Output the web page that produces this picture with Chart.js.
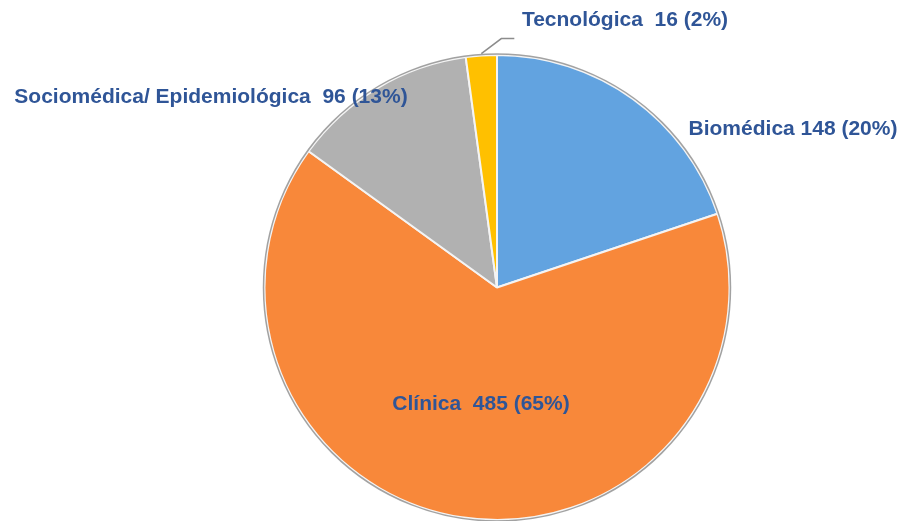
<!DOCTYPE html>
<html>
<head>
<meta charset="utf-8">
<script src="https://cdn.jsdelivr.net/npm/chart.js@4"></script>
<style>
  html, body { margin: 0; padding: 0; background: #fff; }
  #wrap { width: 901px; height: 521px; }
</style>
</head>
<body>
<div id="wrap"><canvas id="pie"></canvas></div>
<script>
// データ
const categories = ['Biomédica', 'Clínica', 'Sociomédica/ Epidemiológica', 'Tecnológica'];
const counts = [148, 485, 96, 16];
const sliceColors = ['#62A3E0', '#F8883A', '#B1B1B1', '#FFC000'];

// ラベル配置 (中心からのずれ)
const labelSep = [' ', '  ', '  ', '  '];
const labelOffsets = [[296, -158], [-16, 117], [-286, -190], [128, -267]];

const total = counts.reduce((a, b) => a + b, 0);

// ラベル描画プラグイン
const labelPlugin = {
    id: 'sliceLabels',
    afterDatasetsDraw(chart) {
        const ctx = chart.ctx;
        const arcs = chart.getDatasetMeta(0).data;
        ctx.save();

        // 外周の縁取り
        const a0 = arcs[0];
        ctx.beginPath();
        ctx.arc(a0.x, a0.y, a0.outerRadius + 1, 0, Math.PI * 2);
        ctx.strokeStyle = 'rgba(90,90,90,0.55)';
        ctx.lineWidth = 1.5;
        ctx.stroke();

        ctx.font = 'bold 21px "Liberation Sans", Arial, sans-serif';
        ctx.fillStyle = '#2F5597';
        ctx.textAlign = 'center';
        ctx.textBaseline = 'middle';
        arcs.forEach((arc, i) => {
            const pct = Math.round(counts[i] / total * 100);
            const text = categories[i] + labelSep[i] + counts[i] + ' (' + pct + '%)';
            ctx.fillText(text, arc.x + labelOffsets[i][0], arc.y + labelOffsets[i][1]);
        });

        // テクノロジカの引き出し線
        const t = arcs[3];
        const mid = (t.startAngle + t.endAngle) / 2;
        const sx = t.x + Math.cos(mid) * t.outerRadius;
        const sy = t.y + Math.sin(mid) * t.outerRadius;
        ctx.beginPath();
        ctx.moveTo(sx, sy - 2);
        ctx.lineTo(sx + 20, sy - 17);
        ctx.lineTo(sx + 33, sy - 17);
        ctx.strokeStyle = '#8C8C8C';
        ctx.lineWidth = 1.5;
        ctx.stroke();
        ctx.restore();
    }
};

new Chart(document.getElementById('pie'), {
    type: 'pie',
    data: {
        labels: categories,
        datasets: [{
            data: counts,
            backgroundColor: sliceColors,
            borderColor: '#F4F4F4',
            borderWidth: 2
        }]
    },
    options: {
        responsive: true,
        maintainAspectRatio: false,
        animation: false,
        layout: { padding: { left: 263, right: 170, top: 54, bottom: 0 } },
        plugins: {
            legend: { display: false },
            tooltip: { enabled: false }
        }
    },
    plugins: [labelPlugin]
});
</script>
</body>
</html>
